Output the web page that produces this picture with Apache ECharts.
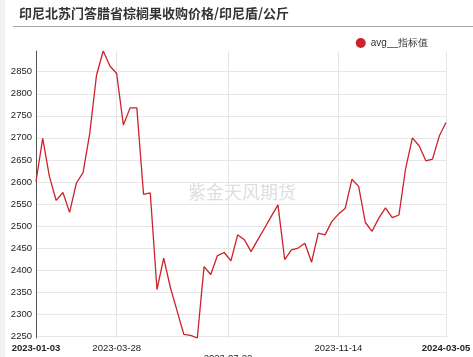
<!DOCTYPE html>
<html>
<head>
<meta charset="utf-8">
<script src="https://cdn.jsdelivr.net/npm/echarts@6/dist/echarts.min.js"></script>
<style>html,body{margin:0;padding:0;background:#fff}#c{width:473px;height:357px}</style>
</head>
<body>
<div id="c"></div>
<script>
var titleText = '印尼北苏门答腊省棕榈果收购价格/印尼盾/公斤';
var seriesName = 'avg__指标值';
var watermark = '紫金天风期货';
var dates = [
  '2023-01-03','2023-01-10','2023-01-17','2023-01-24','2023-01-31','2023-02-07','2023-02-14','2023-02-21','2023-02-28','2023-03-07',
  '2023-03-14','2023-03-21','2023-03-28','2023-04-04','2023-04-11','2023-04-18','2023-04-25','2023-05-02','2023-05-09','2023-05-16',
  '2023-05-23','2023-05-30','2023-06-06','2023-06-13','2023-06-20','2023-06-27','2023-07-04','2023-07-11','2023-07-18','2023-07-25',
  '2023-08-01','2023-08-08','2023-08-15','2023-08-22','2023-08-29','2023-09-05','2023-09-12','2023-09-19','2023-09-26','2023-10-03',
  '2023-10-10','2023-10-17','2023-10-24','2023-10-31','2023-11-07','2023-11-14','2023-11-21','2023-11-28','2023-12-05','2023-12-12',
  '2023-12-19','2023-12-26','2024-01-02','2024-01-09','2024-01-16','2024-01-23','2024-01-30','2024-02-06','2024-02-13','2024-02-20',
  '2024-02-27','2024-03-05'
];
var values = [
  2601,2699,2612,2558,2576,2531,2597,2621,2710,2842,
  2897,2863,2846,2729,2768,2768,2572,2575,2356,2427,
  2360,2307,2254,2252,2246,2408,2390,2433,2440,2421,
  2480,2469,2442,2469,2495,2522,2548,2424,2446,2450,
  2461,2418,2484,2480,2510,2527,2540,2606,2590,2508,
  2488,2518,2541,2519,2525,2631,2700,2682,2648,2652,
  2704,2735
];
var xTickLabels = ['2023-01-03','2023-03-28','2023-07-22','2023-11-14','2024-03-05'];

var chart = echarts.init(document.getElementById('c'), null, {renderer: 'canvas'});
function ts(s){ var p = s.split('-'); return Date.UTC(+p[0], +p[1]-1, +p[2]) / 86400000; }
function fmt(v){ var d = new Date(Math.round(v) * 86400000); var m = d.getUTCMonth()+1, dd = d.getUTCDate();
  return d.getUTCFullYear() + '-' + (m<10?'0':'') + m + '-' + (dd<10?'0':'') + dd; }
var tickVals = xTickLabels.map(ts);
var data = dates.map(function(d, i){ return [ts(d), values[i]]; });
var latin = '"Liberation Sans", Arial, sans-serif';

chart.setOption({
  animation: false,
  backgroundColor: '#fff',
  graphic: [
    {type: 'rect', left: 0, top: 0, shape: {width: 5, height: 357}, style: {fill: '#f2f2f2'}, silent: true},
    {type: 'text', left: 19, top: 7,
     style: {text: titleText, fill: '#333', font: 'bold 13px "Noto Sans CJK SC"'}, silent: true},
    {type: 'line', shape: {x1: 13, y1: 26.5, x2: 473, y2: 26.5}, style: {stroke: '#aaaaaa', lineWidth: 1}, silent: true},
    {type: 'text', left: 188, top: 183, z: 0,
     style: {text: watermark, fill: 'rgba(200,200,200,0.6)', font: '18px "Noto Sans CJK SC"'}, silent: true}
  ],
  legend: {
    data: [{name: seriesName, icon: 'circle'}],
    right: 40, top: 33, itemWidth: 10, itemHeight: 10,
    textStyle: {fontSize: 10, color: '#333', fontFamily: latin}
  },
  grid: {left: 36, right: 27, top: 51, bottom: 19, containLabel: false, outerBoundsMode: 'none'},
  xAxis: {
    type: 'value', min: 'dataMin', max: 'dataMax', scale: true,
    axisLine: {show: false},
    axisTick: {show: false, customValues: tickVals},
    axisLabel: {
      customValues: tickVals, showMinLabel: true, showMaxLabel: true,
      fontSize: 9.5, color: '#222', margin: 5, hideOverlap: false, fontFamily: latin,
      formatter: function(v){
        var s = fmt(v);
        if (s === xTickLabels[0] || s === xTickLabels[xTickLabels.length-1]) return '{b|' + s + '}';
        if (s === xTickLabels[2]) return '{d|' + s + '}';
        return s;
      },
      rich: {
        b: {fontWeight: 'bold', fontSize: 9.5, color: '#222', fontFamily: latin},
        d: {fontSize: 9.5, color: '#222', fontFamily: latin, padding: [10, 0, 0, 0]}
      }
    },
    splitLine: {show: true, lineStyle: {color: '#e6e6e6', width: 1}}
  },
  yAxis: {
    type: 'value', min: 'dataMin', max: 'dataMax', splitNumber: 12,
    axisLine: {show: true, lineStyle: {color: '#555', width: 1}},
    axisTick: {show: false},
    axisLabel: {fontSize: 9.5, color: '#222', margin: 4, fontFamily: latin,
      showMinLabel: false, showMaxLabel: false,
      formatter: function(v){ return String(v); }},
    splitLine: {show: true, showMinLine: false, showMaxLine: false, lineStyle: {color: '#e6e6e6', width: 1}}
  },
  series: [{
    name: seriesName, type: 'line', data: data,
    showSymbol: false, symbol: 'circle',
    itemStyle: {color: '#cc2229'},
    lineStyle: {color: '#cc2229', width: 1.3}
  }]
});
</script>
</body>
</html>
